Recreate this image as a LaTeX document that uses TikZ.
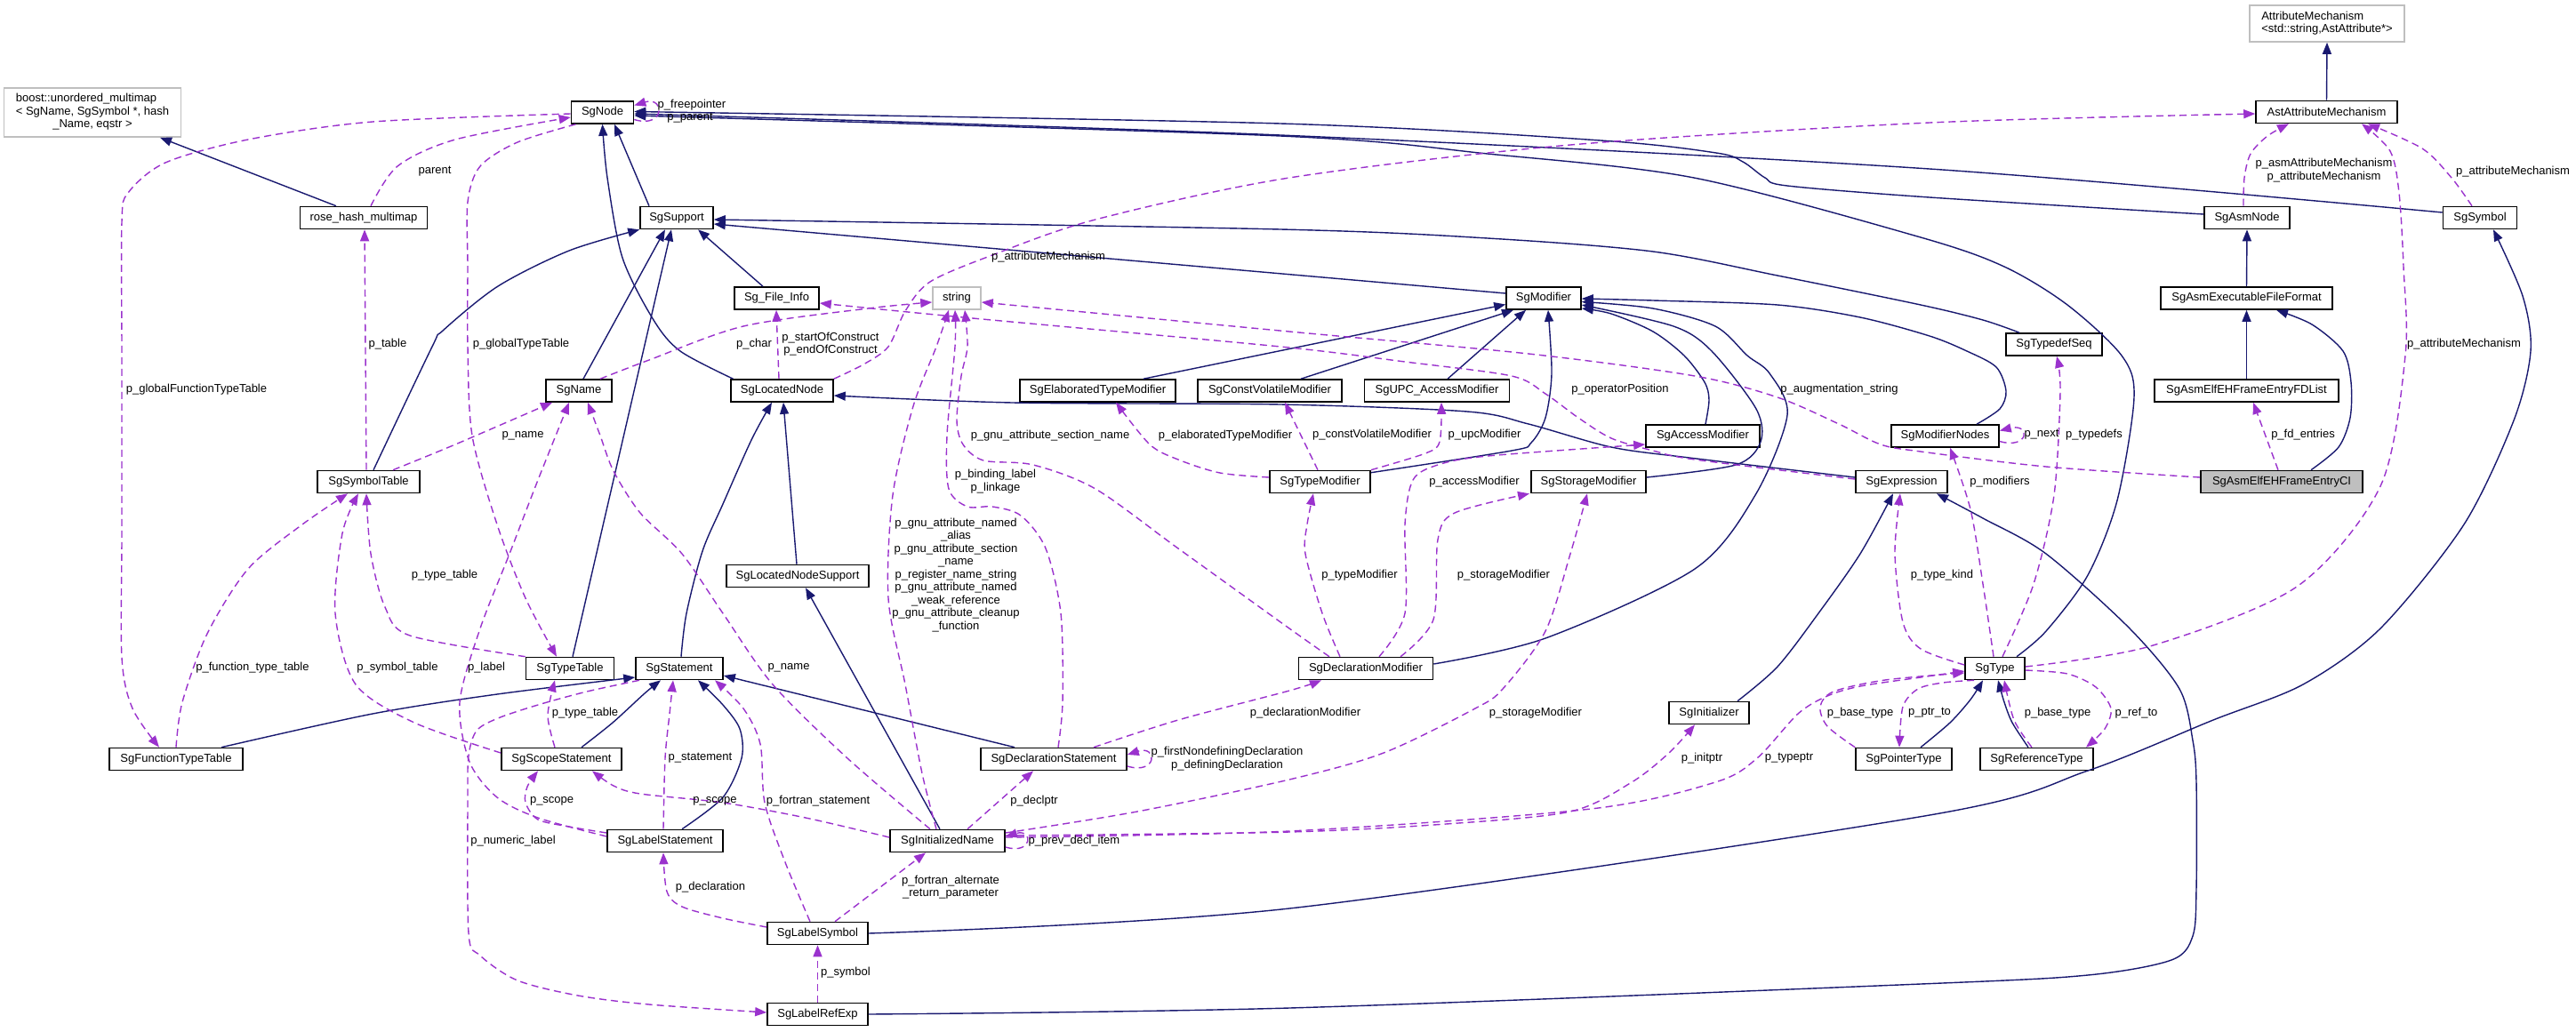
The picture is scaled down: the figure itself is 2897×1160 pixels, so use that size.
\documentclass[tikz,border=0pt]{standalone}
\usepackage{fontspec}
\setmainfont{Liberation Sans}
\usetikzlibrary{arrows.meta}
\definecolor{navy}{HTML}{191970}
\definecolor{purp}{HTML}{9A32CD}
\definecolor{lgray}{HTML}{BFBFBF}
\begin{document}
\begin{tikzpicture}[x=1pt,y=-1pt, font=\fontsize{13}{14.5}\selectfont,
  cls/.style={draw=black, line width=1.6pt, fill=white, minimum height=25pt, inner sep=0pt},
  ext/.style={draw=lgray, line width=1.6pt, fill=white, inner sep=0pt},
  lbl/.style={inner sep=0pt, align=center},
  inh/.style={draw=navy, line width=1.4pt, -{Triangle[length=13pt,width=10pt]}},
  use/.style={draw=purp, line width=1.4pt, dash pattern=on 8pt off 5pt, -{Triangle[length=13pt,width=10pt]}}]
\path[use as bounding box, fill=white] (0,0) rectangle (2897,1160);

% ---------------- nodes ----------------
\node[ext, minimum width=199pt, minimum height=55pt] (boost) at (104,126.5) {\begin{tabular}{@{}l@{}}boost::unordered\_multimap\\< SgName, SgSymbol *, hash\\\multicolumn{1}{@{}c@{}}{\_Name, eqstr >}\end{tabular}};
\node[ext, minimum width=174pt, minimum height=41pt] (attr) at (2617,26.5) {\begin{tabular}{@{}l@{}}AttributeMechanism\\<std::string,AstAttribute*>\end{tabular}};
\node[cls, minimum width=70pt] (node) at (677.5,126.5) {SgNode};
\node[cls, minimum width=159pt] (ast) at (2616.5,126) {AstAttributeMechanism};
\node[cls, minimum width=143pt] (rose) at (409,245) {rose\_hash\_multimap};
\node[cls, minimum width=82pt] (sup) at (761,245) {SgSupport};
\node[cls, minimum width=96pt] (asmn) at (2527,245) {SgAsmNode};
\node[cls, minimum width=83pt] (sym) at (2789,245) {SgSymbol};
\node[cls, minimum width=95pt] (sfi) at (873.5,335.5) {Sg\_File\_Info};
\node[ext, minimum width=54pt, minimum height=25pt] (str) at (1076,335.5) {string};
\node[cls, minimum width=84pt] (mod) at (1736,335.5) {SgModifier};
\node[cls, minimum width=193pt] (aeff) at (2526.5,335.5) {SgAsmExecutableFileFormat};
\node[cls, minimum width=108pt] (tds) at (2310,387.5) {SgTypedefSeq};
\node[cls, minimum width=74pt] (name) at (651,439.5) {SgName};
\node[cls, minimum width=115pt] (ln) at (879.5,439.5) {SgLocatedNode};
\node[cls, minimum width=175pt] (etm) at (1234.5,439.5) {SgElaboratedTypeModifier};
\node[cls, minimum width=162pt] (cvm) at (1428,439.5) {SgConstVolatileModifier};
\node[cls, minimum width=163pt] (upc) at (1616,439.5) {SgUPC\_AccessModifier};
\node[cls, minimum width=207pt] (fdl) at (2526.5,439.5) {SgAsmElfEHFrameEntryFDList};
\node[cls, minimum width=128pt] (acc) at (1915,490.5) {SgAccessModifier};
\node[cls, minimum width=121pt] (mn) at (2187.5,490.5) {SgModifierNodes};
\node[cls, minimum width=115pt] (st) at (414.5,542) {SgSymbolTable};
\node[cls, minimum width=113pt] (tm) at (1484.5,542) {SgTypeModifier};
\node[cls, minimum width=129pt] (sm) at (1786.5,542) {SgStorageModifier};
\node[cls, minimum width=103pt] (expr) at (2138.5,542) {SgExpression};
\node[cls, minimum width=182pt, fill=lgray] (ci) at (2566,542) {SgAsmElfEHFrameEntryCI};
\node[cls, minimum width=160pt] (lns) at (897,648) {SgLocatedNodeSupport};
\node[cls, minimum width=99pt] (tt) at (641,752) {SgTypeTable};
\node[cls, minimum width=98pt] (stmt) at (764,752) {SgStatement};
\node[cls, minimum width=151pt] (dm) at (1536,752) {SgDeclarationModifier};
\node[cls, minimum width=67pt] (type) at (2243.5,752) {SgType};
\node[cls, minimum width=90pt] (init) at (1922,802) {SgInitializer};
\node[cls, minimum width=150pt] (ftt) at (198,854) {SgFunctionTypeTable};
\node[cls, minimum width=135pt] (scope) at (631.5,854) {SgScopeStatement};
\node[cls, minimum width=164pt] (ds) at (1185,854) {SgDeclarationStatement};
\node[cls, minimum width=108pt] (ptr) at (2141,854) {SgPointerType};
\node[cls, minimum width=127pt] (ref) at (2290.5,854) {SgReferenceType};
\node[cls, minimum width=130pt] (lst) at (748,946) {SgLabelStatement};
\node[cls, minimum width=129pt] (iname) at (1065.5,946) {SgInitializedName};
\node[cls, minimum width=113pt] (lsym) at (919.5,1050) {SgLabelSymbol};
\node[cls, minimum width=113pt] (lref) at (919.5,1141) {SgLabelRefExp};

% ---------------- inheritance (solid) ----------------
\draw[inh] ([xshift=-31pt]rose.north) -- ([xshift=76pt]boost.south);
\draw[inh] ([xshift=-31pt]sup.north) -- ([xshift=13.5pt]node.south);
\draw[inh] plot[smooth] coordinates {([xshift=-55pt]ln.north) (765,395) (735,360) (700,290) (683,200) (node.south)};
\draw[inh] plot[smooth] coordinates {([xshift=5.5pt]st.north) (486,390) (498,372) (560,322) (640,282) (sup.south west)};
\draw[inh] ([xshift=5pt]name.north) -- ([xshift=-13pt]sup.south);
\draw[inh] ([xshift=3pt]tt.north) -- ([xshift=-6pt]sup.south);
\draw[inh] ([xshift=-15.5pt]sfi.north) -- ([xshift=24pt]sup.south);
\draw[inh] ([yshift=5.5pt]mod.west) -- ([yshift=-7pt]sup.east);
\draw[inh] plot[smooth] coordinates {([xshift=-39pt]tds.north) (2230,360) (2160,343) (1999,310) (1859,283) (1673,268) (1440,258) ([yshift=-2pt]sup.east)};
\draw[inh] plot[smooth] coordinates {([yshift=4pt]asmn.west) (2170,222) (2010,209) (1985,200) (1960,182) (1930,172) (1800,158) (1440,139) ([yshift=1pt]node.east)};
\draw[inh] plot[smooth] coordinates {([yshift=6pt]sym.west) (2170,190) (1440,152) ([yshift=-1.5pt]node.east)};
\draw[inh] plot[smooth] coordinates {([xshift=24.5pt]type.north) (2301,710) (2348,647) (2381,563) (2400,447) (2386,400) (2325,343) (2254,300) (2160,267) (1905,200) (1673,173) (1440,153) ([yshift=-3.5pt]node.east)};
\draw[inh] (aeff.north) -- (asmn.south);
\draw[inh] (ast.north) -- (attr.south);
\draw[inh] (fdl.north) -- (aeff.south);
\draw[inh] plot[smooth] coordinates {([xshift=33pt]ci.north) (2630,503) (2643,470) (2644,430) (2635,395) (2600,365) ([xshift=33.5pt]aeff.south)};
\draw[inh] plot[smooth] coordinates {(lsym.east) (1450,1022) (2170,917) (2348,867) (2489,810) (2590,770) (2677,707) (2771,590) (2827,473) (2846,395) (2837,333) ([xshift=15pt]sym.south)};
\draw[inh] plot[smooth] coordinates {(lref.east) (1450,1134) (2160,1107) (2348,1097) (2442,1080) (2466,1053) (2470,1000) (2470,880) (2466,833) (2451,775) (2395,707) (2301,623) (2230,583) ([xshift=39.5pt]expr.south)};
\draw[inh] plot[smooth] coordinates {([xshift=32pt]init.north) (1999,750) (2045,690) (2092,623) ([xshift=-9.5pt]expr.south)};
\draw[inh] plot[smooth] coordinates {([yshift=5pt]expr.west) (1900,515) (1812,503) (1719,477) (1650,463) (1440,455) (1139,453) ([yshift=-5.5pt]ln.east)};
\draw[inh] plot[smooth] coordinates {([yshift=-3pt]tm.north east) (1700,507) (1722,498) (1738,470) (1745,420) ([xshift=5pt]mod.south)};
\draw[inh] ([xshift=51.5pt]etm.north) -- ([yshift=-7pt]mod.west);
\draw[inh] ([xshift=35pt]cvm.north) -- ([xshift=-34pt]mod.south);
\draw[inh] ([xshift=12pt]upc.north) -- ([xshift=-20pt]mod.south);
\draw[inh] plot[smooth] coordinates {([xshift=3pt]acc.north) (1922,450) (1917,430) (1894,400) (1859,373) (1812,353) ([yshift=-11.5pt]mod.east)};
\draw[inh] plot[smooth] coordinates {([yshift=5pt]sm.east) (1952,523) (1980,497) (1975,460) (1925,395) (1882,367) ([yshift=-7.5pt]mod.east)};
\draw[inh] plot[smooth] coordinates {([yshift=5pt]dm.east) (1738,718) (1906,640) (1974,557) (2010,467) (1990,420) (1965,400) (1929,367) (1859,347) ([yshift=-4pt]mod.east)};
\draw[inh] plot[smooth] coordinates {([xshift=35.5pt]mn.north) (2249,460) (2256,440) (2245,413) (2212,395) (2170,378) (2092,357) (1999,343) (1859,338) ([yshift=-0.5pt]mod.east)};
\draw[inh] ([xshift=-44pt]ds.north) -- ([yshift=-8pt]stmt.east);
\draw[inh] plot[smooth] coordinates {([xshift=19pt]lst.north) (813,897) (834,853) (832,820) (813,793) ([xshift=21pt]stmt.south)};
\draw[inh] plot[smooth] coordinates {([xshift=22.5pt]scope.north) (689,813) (725,780) ([xshift=-21pt]stmt.south)};
\draw[inh] plot[smooth] coordinates {([xshift=51pt]ftt.north) (419,803) (559,781) ([yshift=-10pt]stmt.west)};
\draw[inh] plot[smooth] coordinates {([xshift=2pt]stmt.north) (772,690) (790,620) (813,567) (845,495) ([xshift=-11.5pt]ln.south)};
\draw[inh] ([xshift=-1pt]lns.north) -- ([xshift=1.5pt]ln.south);
\draw[inh] ([xshift=-8.5pt]iname.north) -- ([xshift=9pt]lns.south);
\draw[inh] plot[smooth] coordinates {([xshift=19pt]ptr.north) (2193,813) (2216,787) ([xshift=-13.5pt]type.south)};
\draw[inh] plot[smooth] coordinates {([xshift=-9.5pt]ref.north) (2263,813) (2254,790) ([xshift=3.5pt]type.south)};

% ---------------- usage (dashed) ----------------
\draw[use] ([yshift=-8pt]node.east) .. controls (748,145) and (748,108) .. ([yshift=8pt]node.east);
\draw[use] plot[smooth] coordinates {([xshift=8pt]rose.north) (447,187) (512,157) ([yshift=-5.5pt]node.west)};
\draw[use] plot[smooth] coordinates {([yshift=-1.5pt]node.west) (419,137) (279,157) (186,183) (144,217) (137,250) (137,400) (137,600) (137,740) (149,797) ([xshift=-19pt]ftt.north)};
\draw[use] plot[smooth] coordinates {([xshift=-30pt]node.south) (582,160) (540,187) (526,227) (526,300) (526,390) (531,490) (559,590) (591,673) ([xshift=-15pt]tt.north)};
\draw[use] ([xshift=-2.5pt]st.north) -- ([xshift=1pt]rose.south);
\draw[use] plot[smooth] coordinates {([xshift=27.5pt]st.north) (512,500) ([xshift=-30pt]name.south)};
\draw[use] plot[smooth] coordinates {(ftt.north) (205,790) (233,713) (279,640) (340,590) ([xshift=-23.5pt]st.south)};
\draw[use] plot[smooth] coordinates {([yshift=7pt]scope.west) (466,813) (400,770) (377,690) (385,600) ([xshift=-11.5pt]st.south)};
\draw[use] plot[smooth] coordinates {(tt.north west) (461,715) (433,683) (417,623) ([xshift=-2.5pt]st.south)};
\draw[use] plot[smooth] coordinates {([yshift=5pt]lst.west) (605,920) (559,897) (528,857) (517,790) (540,707) (573,623) (605,540) ([xshift=-11pt]name.south)};
\draw[use] plot[smooth] coordinates {([yshift=4pt]iname.west) (906,920) (813,903) (720,893) (690,884) ([xshift=34.5pt]scope.south)};
\draw[use] plot[smooth] coordinates {([yshift=9pt]lst.west) (640,930) (605,922) (591,903) (593,885) ([xshift=-26.5pt]scope.south)};
\draw[use] plot[smooth] coordinates {([xshift=-45pt]stmt.south) (660,778) (605,793) (560,808) (536,822) (527,850) (526,900) (527,1050) (540,1075) (582,1103) (650,1120) (730,1130) ([yshift=2pt]lref.west)};
\draw[use] plot[smooth] coordinates {([xshift=-7.5pt]scope.north) (616,805) ([xshift=-17pt]tt.south)};
\draw[use] plot[smooth] coordinates {([xshift=24pt]name.north) (730,405) (836,367) (976,347) ([yshift=-4.5pt]str.west)};
\draw[use] ([xshift=-3.5pt]ln.north) -- ([xshift=-0.5pt]sfi.south);
\draw[use] plot[smooth] coordinates {(ln.north east) (971,410) (999,390) (1018,350) (1046,317) (1116,287) (1232,247) (1450,200) (1766,163) (2170,138) ([yshift=-2pt]ast.west)};
\draw[use] plot[smooth] coordinates {([yshift=3pt]expr.west) (1906,517) (1859,507) (1812,493) (1775,470) (1738,443) (1700,423) (1580,407) (1440,390) (1083,357) ([yshift=-5.5pt]sfi.east)};
\draw[use] plot[smooth] coordinates {([yshift=5pt]ci.west) (2301,525) (2160,508) (2115,500) (2068,477) (1999,447) (1906,423) (1719,398) (1450,373) ([yshift=-4.5pt]str.east)};
\draw[use] plot[smooth] coordinates {([xshift=-41pt]dm.north) (1450,707) (1325,617) (1232,550) (1162,523) (1106,518) (1083,500) (1076,473) (1081,423) (1088,390) ([xshift=9pt]str.south)};
\draw[use] plot[smooth] coordinates {([xshift=5pt]ds.north) (1195,790) (1193,690) (1176,617) (1148,580) (1116,570) (1088,570) (1067,550) (1065,490) (1074,390) ([xshift=-2pt]str.south)};
\draw[use] plot[smooth] coordinates {([xshift=-12.5pt]iname.north) (1037,870) (1018,770) (999,673) (1004,557) (1027,457) (1053,390) ([xshift=-9pt]str.south)};
\draw[use] plot[smooth] coordinates {([yshift=5pt]tm.west) (1372,532) (1325,517) (1293,500) ([xshift=20.5pt]etm.south)};
\draw[use] ([xshift=-2.5pt]tm.north) -- ([xshift=17pt]cvm.south);
\draw[use] plot[smooth] coordinates {(tm.north east) (1603,510) (1619,497) ([xshift=5pt]upc.south)};
\draw[use] plot[smooth] coordinates {([xshift=15pt]dm.north) (1580,690) (1580,590) (1589,540) (1617,523) (1673,513) ([yshift=-9.5pt]acc.west)};
\draw[use] plot[smooth] coordinates {([xshift=39pt]dm.north) (1612,697) (1617,607) (1636,577) ([xshift=-66.5pt]sm.south)};
\draw[use] plot[smooth] coordinates {([xshift=-29pt]dm.north) (1487,690) (1468,623) (1470,590) ([xshift=-7.5pt]tm.south)};
\draw[use] plot[smooth] coordinates {([yshift=9pt]iname.east) (1279,913) (1450,877) (1556,847) (1659,797) (1690,775) (1738,710) (1766,623) ([xshift=-1.5pt]sm.south)};
\draw[use] plot[smooth] coordinates {([xshift=45pt]ds.north) (1325,810) (1450,777) ([xshift=-50pt]dm.south)};
\draw[use] ([yshift=-8pt]ds.east) .. controls (1302,872) and (1302,838) .. ([yshift=5pt]ds.east);
\draw[use] ([xshift=22.5pt]iname.north) -- ([xshift=-23pt]ds.south);
\draw[use] ([yshift=-7pt]iname.east) .. controls (1162,962) and (1162,932) .. ([yshift=5pt]iname.east);
\draw[use] plot[smooth] coordinates {([yshift=6pt]iname.east) (1450,936) (1626,927) (1766,913) (1835,880) (1877,847) ([xshift=-16pt]init.south)};
\draw[use] plot[smooth] coordinates {([yshift=4pt]iname.east) (1450,935) (1789,910) (1929,880) (1976,853) (2022,803) (2055,783) (2092,772) (2160,762) ([yshift=-3pt]type.west)};
\draw[use] ([yshift=-6pt]mn.east) .. controls (2282,506) and (2284,476) .. ([yshift=6pt]mn.east);
\draw[use] plot[smooth] coordinates {([xshift=-1.5pt]type.north) (2230,657) (2216,573) ([xshift=5.5pt]mn.south)};
\draw[use] plot[smooth] coordinates {([xshift=8.5pt]type.north) (2287,657) (2310,557) (2317,440) ([xshift=3pt]tds.south)};
\draw[use] plot[smooth] coordinates {([yshift=2pt]type.east) (2418,727) (2583,660) (2677,547) (2705,400) (2703,300) (2698,217) (2688,170) ([xshift=39.5pt]ast.south)};
\draw[use] plot[smooth] coordinates {([xshift=-4pt]asmn.north) (2524,200) (2531,173) (2550,153) ([xshift=-42.5pt]ast.south)};
\draw[use] plot[smooth] coordinates {([xshift=-9pt]sym.north) (2757,200) (2724,167) ([xshift=46.5pt]ast.south)};
\draw[use] plot[smooth] coordinates {([yshift=4pt]type.west) (2160,730) (2140,700) (2131,623) ([xshift=-1.5pt]expr.south)};
\draw[use] plot[smooth] coordinates {(ptr.north west) (2055,817) (2047,795) (2062,778) (2120,765) ([yshift=-5pt]type.west)};
\draw[use] plot[smooth] coordinates {([xshift=-23.5pt]type.south) (2185,768) (2157,775) (2140,795) ([xshift=-5pt]ptr.north)};
\draw[use] plot[smooth] coordinates {([xshift=-5.5pt]ref.north) (2265,810) ([xshift=10.5pt]type.south)};
\draw[use] plot[smooth] coordinates {([yshift=-2pt]type.east) (2325,758) (2357,773) (2374,797) (2367,820) ([xshift=55.5pt]ref.north)};
\draw[use] plot[smooth] coordinates {([yshift=7pt]lsym.west) (813,1033) (767,1020) (750,1003) ([xshift=-2pt]lst.south)};
\draw[use] plot[smooth] coordinates {([xshift=-8.5pt]lsym.north) (883,970) (860,903) (855,837) (836,797) ([xshift=40pt]stmt.south)};
\draw[use] ([xshift=19.5pt]lsym.north) -- ([xshift=-24.5pt]iname.south);
\draw[use] (lref.north) -- (lsym.south);
\draw[use] plot[smooth] coordinates {([xshift=-2pt]lst.north) (748,853) (753,803) ([xshift=-7pt]stmt.south)};
\draw[use] plot[smooth] coordinates {([xshift=-19.5pt]iname.north) (953,853) (869,770) (813,690) (767,623) (720,577) (690,530) (675,490) ([xshift=10pt]name.south)};
\draw[use] ([xshift=-4pt]ci.north) -- ([xshift=7.5pt]fdl.south);

% ---------------- labels ----------------
\node[lbl] (l1) at (778,118) {p\_freepointer};
\node[lbl] (l2) at (776,133) {p\_parent};
\node[lbl] (l3) at (489,193) {parent};
\node[lbl] (l4) at (436,387) {p\_table};
\node[lbl] (l5) at (586,387) {p\_globalTypeTable};
\node[lbl] (l6) at (221,438) {p\_globalFunctionTypeTable};
\node[lbl] (l7) at (588,490) {p\_name};
\node[lbl] (l8) at (500,647) {p\_type\_table};
\node[lbl] (l9) at (284,751) {p\_function\_type\_table};
\node[lbl] (l10) at (447,751) {p\_symbol\_table};
\node[lbl] (l11) at (547,751) {p\_label};
\node[lbl] (l12) at (848,387) {p\_char};
\node[lbl] (l13) at (934,387) {p\_startOfConstruct\\p\_endOfConstruct};
\node[lbl] (l14) at (1179,289) {p\_attributeMechanism};
\node[lbl] (l15) at (1181,490) {p\_gnu\_attribute\_section\_name};
\node[lbl] (l16) at (1119.5,541.5) {p\_binding\_label\\p\_linkage};
\node[lbl] (l17) at (1075,647) {p\_gnu\_attribute\_named\\\_alias\\p\_gnu\_attribute\_section\\\_name\\p\_register\_name\_string\\p\_gnu\_attribute\_named\\\_weak\_reference\\p\_gnu\_attribute\_cleanup\\\_function};
\node[lbl] (l18) at (887,751) {p\_name};
\node[lbl] (l19) at (1378,490) {p\_elaboratedTypeModifier};
\node[lbl] (l20) at (1543,489) {p\_constVolatileModifier};
\node[lbl] (l21) at (1669.5,489) {p\_upcModifier};
\node[lbl] (l22) at (1822,438) {p\_operatorPosition};
\node[lbl] (l23) at (2068.5,438) {p\_augmentation\_string};
\node[lbl] (l24) at (1658,542) {p\_accessModifier};
\node[lbl] (l25) at (1529,647) {p\_typeModifier};
\node[lbl] (l26) at (1691,647) {p\_storageModifier};
\node[lbl] (l27) at (2184,647) {p\_type\_kind};
\node[lbl] (l28) at (2613.5,191.5) {p\_asmAttributeMechanism\\p\_attributeMechanism};
\node[lbl] (l29) at (2826,193) {p\_attributeMechanism};
\node[lbl] (l30) at (2771,387) {p\_attributeMechanism};
\node[lbl] (l31) at (2296,489) {p\_next};
\node[lbl] (l32) at (2355,489) {p\_typedefs};
\node[lbl] (l33) at (2590,489) {p\_fd\_entries};
\node[lbl] (l34) at (2249,542) {p\_modifiers};
\node[lbl] (l35) at (658,802) {p\_type\_table};
\node[lbl] (l36) at (620.6,901) {p\_scope};
\node[lbl] (l37) at (577,946) {p\_numeric\_label};
\node[lbl] (l38) at (787.5,853) {p\_statement};
\node[lbl] (l39) at (804,901) {p\_scope};
\node[lbl] (l40) at (920,901) {p\_fortran\_statement};
\node[lbl] (l41) at (1163,901) {p\_declptr};
\node[lbl] (l42) at (1380,853.5) {p\_firstNondefiningDeclaration\\p\_definingDeclaration};
\node[lbl] (l43) at (1208,946) {p\_prev\_decl\_item};
\node[lbl] (l44) at (1069,998) {p\_fortran\_alternate\\\_return\_parameter};
\node[lbl] (l45) at (799,998) {p\_declaration};
\node[lbl] (l46) at (951,1094) {p\_symbol};
\node[lbl] (l47) at (1468,802) {p\_declarationModifier};
\node[lbl] (l48) at (1727,802) {p\_storageModifier};
\node[lbl] (l49) at (1914,853) {p\_initptr};
\node[lbl] (l50) at (2012,853) {p\_typeptr};
\node[lbl] (l51) at (2092,802) {p\_base\_type};
\node[lbl] (l52) at (2170,802) {p\_ptr\_to};
\node[lbl] (l53) at (2314,802) {p\_base\_type};
\node[lbl] (l54) at (2402.5,802) {p\_ref\_to};
\end{tikzpicture}
\end{document}
